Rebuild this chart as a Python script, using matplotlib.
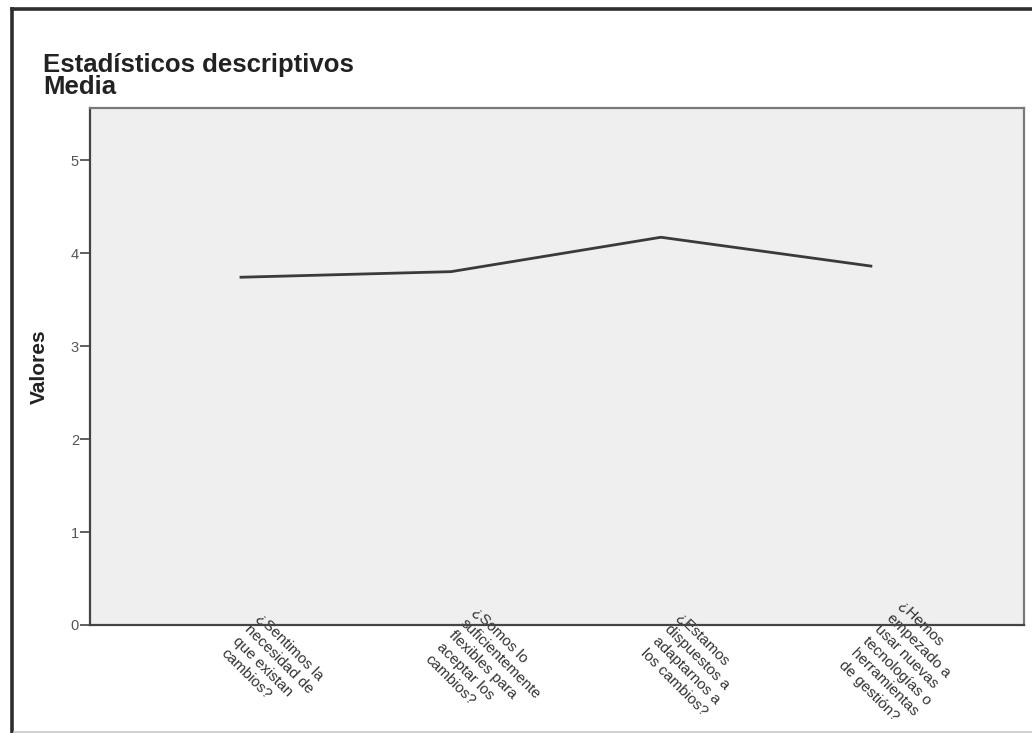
import matplotlib
matplotlib.use("Agg")
import matplotlib.pyplot as plt
from matplotlib.lines import Line2D

plt.rcParams['font.family'] = ['Liberation Sans', 'DejaVu Sans']

# datos
preguntas = [
    "¿Sentimos la\nnecesidad de\nque existan\ncambios?",
    "¿Somos lo\nsuficientemente\nflexibles para\naceptar los\ncambios?",
    "¿Estamos\ndispuestos a\nadaptarnos a\nlos cambios?",
    "¿Hemos\nempezado a\nusar nuevas\ntecnologías o\nherramientas\nde gestión?",
]
medias = [3.74, 3.80, 4.17, 3.86]
y_ticks = [0, 1, 2, 3, 4, 5]

W, H = 1032, 733
fig = plt.figure(figsize=(W / 100, H / 100), dpi=100)

# marco exterior
fig.add_artist(Line2D([11.5 / W, 11.5 / W], [0, 1 - 8.5 / H], transform=fig.transFigure,
                      color='#2e2e2e', lw=2.6))
fig.add_artist(Line2D([11.5 / W, 1], [1 - 8.5 / H, 1 - 8.5 / H], transform=fig.transFigure,
                      color='#2e2e2e', lw=2.6))
fig.add_artist(Line2D([14 / W, 1], [1.5 / H, 1.5 / H], transform=fig.transFigure,
                      color='#c8c8c8', lw=1.2))

fig.text(43 / W, 1 - 53 / H, "Estadísticos descriptivos\nMedia", ha='left', va='top',
         fontsize=18.5, fontweight='bold', color='#222222', linespacing=0.92)

ax = fig.add_axes([90 / W, 1 - 625 / H, (1024 - 90) / W, (625 - 108) / H])
ax.set_facecolor('#efefef')

x = list(range(len(medias)))
ax.plot(x, medias, color='#3a3a3a', lw=2)

ax.set_xlim(-0.719, 3.729)
ax.set_ylim(0, 5.56)
ax.set_yticks(y_ticks)
ax.set_yticklabels([str(v) for v in y_ticks])
ax.tick_params(axis='y', length=7, width=1.2, color='#444444', labelcolor='#555555',
               labelsize=10.5, pad=1)

ax.set_xticks(x)
ax.set_xticklabels(preguntas, rotation=-45, ha='left', va='center', rotation_mode='anchor',
                   fontsize=11, color='#333333', linespacing=1.25)
ax.tick_params(axis='x', length=0, pad=6)

for s in ['left', 'bottom']:
    ax.spines[s].set_color('#444444')
    ax.spines[s].set_linewidth(1.6)
for s in ['top', 'right']:
    ax.spines[s].set_color('#7a7a7a')
    ax.spines[s].set_linewidth(1.6)

ax.set_ylabel("Valores", fontsize=15, fontweight='bold', color='#222222')
ax.yaxis.set_label_coords(-(90 - 49) / 934, 0.5)

fig.savefig("out.png", dpi=100)
